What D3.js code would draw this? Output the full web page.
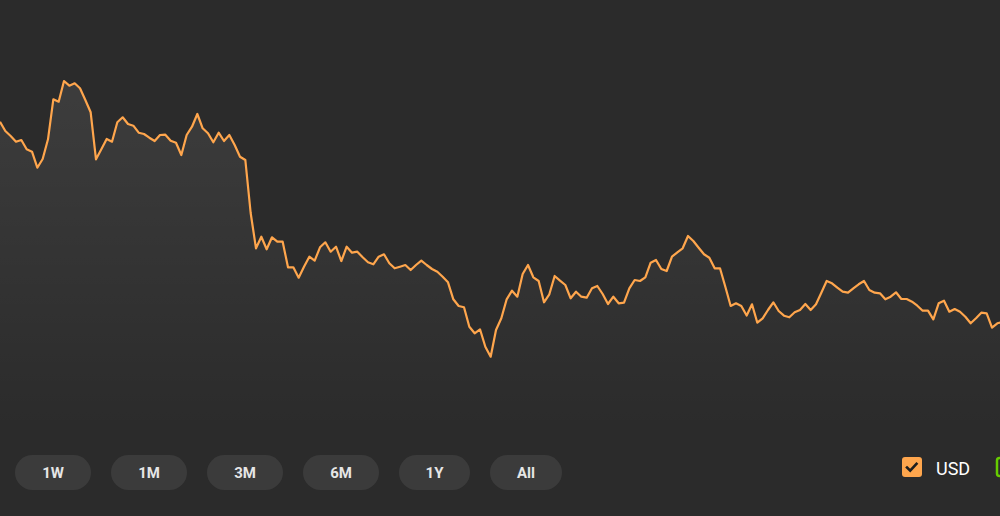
<!DOCTYPE html>
<html>
<head>
<meta charset="utf-8">
<script src="https://cdn.jsdelivr.net/npm/d3@7"></script>
<style>
html,body{margin:0;padding:0;background:#2b2b2b;overflow:hidden;}
svg{display:block;}
</style>
</head>
<body>
<div id="chart"></div>
<script>
// USD price series (one value per sample, oldest first)
const usdValues = [
31.83,30.9,30.4,29.83,30.0,29.07,28.83,27.23,28.1,30.07,
34.07,33.83,35.9,35.43,35.67,35.17,34.0,32.77,28.07,29.07,
30.1,29.83,31.77,32.27,31.6,31.43,30.73,30.6,30.23,29.9,
30.5,30.53,29.93,29.73,28.5,30.5,31.33,32.6,31.17,30.67,
29.77,30.73,29.9,30.5,29.5,28.33,28.0,22.7,19.17,20.33,
19.07,20.27,19.83,19.83,17.27,17.27,16.23,17.33,18.33,17.93,
19.27,19.77,18.83,19.33,17.9,19.33,18.73,18.83,18.27,17.77,
17.57,18.33,18.57,17.67,17.17,17.33,17.5,17.0,17.5,17.93,
17.5,17.1,16.83,16.33,15.77,14.07,13.4,13.27,11.33,10.67,
11.07,9.33,8.33,11.0,12.17,14.07,14.93,14.33,16.6,17.5,
16.27,15.9,13.77,14.57,16.4,15.93,15.5,14.17,14.83,14.33,
14.23,15.17,15.4,14.6,13.6,14.33,13.67,13.73,15.17,16.0,
15.9,16.27,17.73,18.0,17.1,16.9,18.33,18.77,19.17,20.4,
19.9,19.23,18.57,18.23,17.17,17.17,15.33,13.4,13.67,13.4,
12.45,13.57,11.73,12.17,13.0,13.77,12.9,12.43,12.27,12.77,
13.0,13.6,13.0,13.57,14.73,15.9,15.67,15.23,14.83,14.73,
15.17,15.57,15.9,15.0,14.73,14.67,14.07,14.33,14.77,14.1,
14.1,13.83,13.43,12.93,12.93,12.07,13.67,13.93,12.83,13.1,
12.83,12.33,11.67,12.17,12.73,12.67,11.23,11.67,11.8
];
const rangeLabels = ["1W","1M","3M","6M","1Y","All"];
const legendLabels = ["USD"];

const W = 1000, H = 516;
const svg = d3.select("#chart").append("svg").attr("width", W).attr("height", H);
svg.append("rect").attr("width", W).attr("height", H).attr("fill", "#2b2b2b");

const x = d3.scaleLinear().domain([0, 187.5]).range([0, 1000]);
const y = d3.scaleLinear().domain([0, 44]).range([440, 0]);

const defs = svg.append("defs");
const grad = defs.append("linearGradient").attr("id","fillGrad")
  .attr("gradientUnits","userSpaceOnUse").attr("x1",0).attr("x2",0).attr("y1",80).attr("y2",430);
grad.append("stop").attr("offset","0").attr("stop-color","#ffffff").attr("stop-opacity",0.085);
grad.append("stop").attr("offset","1").attr("stop-color","#ffffff").attr("stop-opacity",0);

const area = d3.area().x((d,i)=>x(i)).y0(y(0)).y1(d=>y(d));
const line = d3.line().x((d,i)=>x(i)).y(d=>y(d));

svg.append("path").datum(usdValues).attr("d", area).attr("fill","url(#fillGrad)");
svg.append("path").datum(usdValues).attr("d", line)
  .attr("fill","none").attr("stroke","#ffa64d").attr("stroke-width",2.2)
  .attr("stroke-linejoin","round");

// range buttons
const btnX = [15,111,207,303,399,490];
const btnW = [76,76,76,76,71,72];
const btns = svg.append("g").selectAll("g").data(rangeLabels).join("g")
  .attr("transform",(d,i)=>`translate(${btnX[i]},455)`);
btns.append("rect").attr("width",(d,i)=>btnW[i]).attr("height",35).attr("rx",17.5)
  .attr("fill","#3b3b3b");
btns.append("text").attr("x",(d,i)=>btnW[i]/2).attr("y",23)
  .attr("text-anchor","middle").attr("fill","#e6e6e6")
  .style("font-family","Roboto, 'Noto Sans', sans-serif").style("font-weight","bold").style("font-size","15px")
  .text(d=>d);

// legend
const lg = svg.append("g").attr("transform","translate(902,457)");
lg.append("rect").attr("width",20).attr("height",20).attr("rx",3).attr("fill","#ffa64d");
lg.append("path").attr("d","M5 10.5 L8.2 13.7 L14.5 6.8").attr("fill","none")
  .attr("stroke","#1e1e1e").attr("stroke-width",2.6).attr("stroke-linecap","square");
lg.append("text").attr("x",34).attr("y",17.5).attr("fill","#ffffff")
  .style("font-family","Roboto, 'Noto Sans', sans-serif").style("font-size","18px")
  .text(legendLabels[0]);
svg.append("rect").attr("x",997).attr("y",458).attr("width",18).attr("height",18).attr("rx",2.5)
  .attr("fill","none").attr("stroke","#66cc00").attr("stroke-width",2.5);
</script>
</body>
</html>
